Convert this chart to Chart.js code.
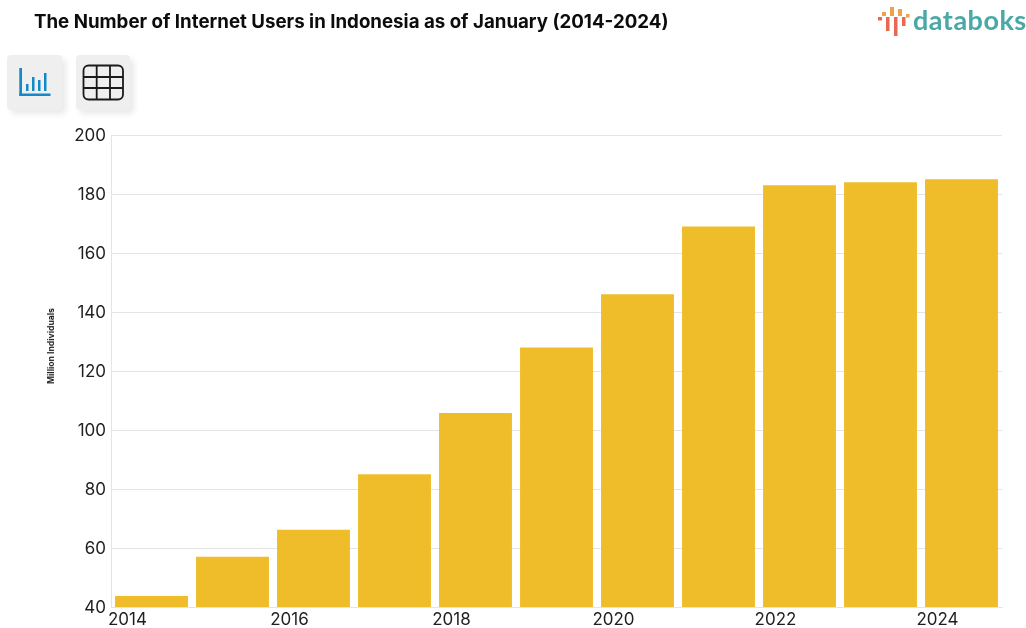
<!DOCTYPE html>
<html>
<head>
<meta charset="utf-8">
<title>Internet Users in Indonesia</title>
<script src="https://cdn.jsdelivr.net/npm/chart.js@4"></script>
<style>
	html, body { margin: 0; padding: 0; background: #fff; overflow: hidden; }
	#wrap { position: relative; width: 1026px; height: 628px; font-family: Inter, sans-serif; }
	#chartCanvas { position: absolute; left: 0; top: 0; }
	#heading { position: absolute; left: 34px; top: 10px; margin: 0; font-size: 18.7px; line-height: 24px; font-weight: 700; color: #0c0c0c; white-space: nowrap; }
	#yAxisLabel { position: absolute; left: 51px; top: 346px; transform: translate(-50%, -50%) rotate(-90deg); font-size: 8.6px; font-weight: 700; color: #1f1f1f; white-space: nowrap; }
	.btn { position: absolute; top: 55px; width: 55px; height: 55px; background: #efefef; border-radius: 4px; box-shadow: 4px 4px 6px rgba(0,0,0,0.09); }
	.btn svg { position: absolute; left: 0; top: 0; }
	#logo { position: absolute; left: 860px; top: 0; }
</style>
</head>
<body>
<div id="wrap">
	<canvas id="chartCanvas" width="1026" height="628"></canvas>
	<h1 id="heading">The Number of Internet Users in Indonesia as of January (2014-2024)</h1>
	<div id="yAxisLabel"></div>

	<div class="btn" style="left:7px">
		<svg width="55" height="55" viewBox="0 0 55 55" fill="#1389c8">
			<rect x="12.3" y="13" width="2.7" height="28"/>
			<rect x="12.3" y="38.5" width="31.2" height="2.5"/>
			<rect x="19" y="29" width="2.5" height="7"/>
			<rect x="25" y="22" width="2.5" height="14"/>
			<rect x="31" y="25" width="2.5" height="11"/>
			<rect x="37" y="18" width="2.5" height="18"/>
		</svg>
	</div>
	<div class="btn" style="left:76px; width:54px">
		<svg width="54" height="55" viewBox="0 0 54 55" fill="none" stroke="#1b1b1b" stroke-width="1.8">
			<rect x="7.5" y="10.5" width="39.5" height="34" rx="5"/>
			<path d="M20.7 10.5V44.5M34 10.5V44.5M7.5 22H47M7.5 33H47"/>
		</svg>
	</div>

	<svg id="logo" width="166" height="40" viewBox="860 0 166 40">
		<g fill="#e8694f">
			<rect x="878" y="17" width="4" height="3.5"/>
			<rect x="886" y="17" width="3.5" height="14"/>
			<rect x="894" y="17" width="3.5" height="19"/>
			<rect x="902" y="17" width="3.5" height="9"/>
		</g>
		<g fill="#eda24a">
			<rect x="882" y="12" width="4" height="4"/>
			<rect x="890" y="7" width="4" height="9"/>
			<rect x="898" y="9" width="4" height="7"/>
			<rect x="906" y="14" width="3.5" height="3.5"/>
		</g>
		<text x="913" y="29.5" font-family="Lato, sans-serif" font-size="27" font-weight="700" letter-spacing="0.5" fill="#4aa8a6">databoks</text>
	</svg>
</div>

<script>
'use strict'

// tahun dan jumlah pengguna internet (juta)
const years = ['2014', '2015', '2016', '2017', '2018', '2019', '2020', '2021', '2022', '2023', '2024'];
const internetUsers = [43.7, 57, 66.2, 85, 105.8, 128, 146, 169, 183, 184, 185];
const yTicks = [40, 60, 80, 100, 120, 140, 160, 180, 200];
const yAxisLabel = 'Million Individuals';

const TICK_COLOR = '#1f1f1f';
const GRID_COLOR = '#e4e4e4';
const BAR_COLOR = '#efbd2a';

document.getElementById('yAxisLabel').textContent = yAxisLabel;

const ctx = document.getElementById('chartCanvas').getContext('2d');

new Chart(ctx, {
	type: 'bar',
	data: {
		labels: years,
		datasets: [{
			data: internetUsers,
			backgroundColor: BAR_COLOR,
			categoryPercentage: 1.0,
			barPercentage: 0.9
		}]
	},
	options: {
		responsive: false,
		animation: false,
		layout: { padding: { top: 135, right: 24, bottom: 0, left: 0 } },
		plugins: {
			legend: { display: false },
			title: { display: false },
			tooltip: { enabled: false }
		},
		scales: {
			x: {
				grid: { display: false, drawTicks: false },
				border: { color: GRID_COLOR },
				afterFit: (scale) => { scale.height = 21; },
				ticks: {
					autoSkip: false,
					maxRotation: 0,
					minRotation: 0,
					padding: 3,
					labelOffset: -24,
					color: TICK_COLOR,
					font: { family: 'Inter', size: 17 },
					// ラベルは1つおき
					callback: function (value, index) {
						return index % 2 === 0 ? years[index] : '';
					}
				}
			},
			y: {
				min: 40,
				max: 200,
				afterBuildTicks: (scale) => { scale.ticks = yTicks.map((v) => ({ value: v })); },
				afterFit: (scale) => { scale.width = 111; },
				grid: { color: GRID_COLOR, drawTicks: false },
				border: { color: GRID_COLOR },
				ticks: {
					padding: 5,
					labelOffset: 1,
					color: TICK_COLOR,
					font: { family: 'Inter', size: 17 }
				}
			}
		}
	}
});
</script>
</body>
</html>
